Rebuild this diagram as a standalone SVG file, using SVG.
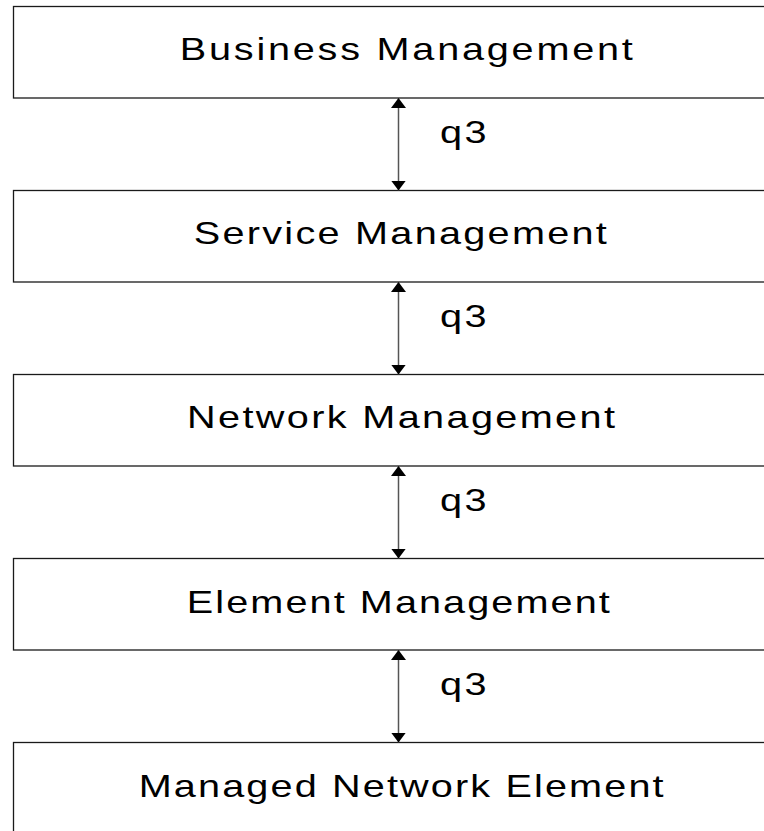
<svg xmlns="http://www.w3.org/2000/svg" width="764" height="831" viewBox="0 0 764 831">
<style>
.box{fill:#fff;stroke:#1a1a1a;stroke-width:1.3}
.lbl{font-family:"Liberation Sans",Arial,sans-serif;font-size:30.5px;fill:#000}
.conn{stroke:#555;stroke-width:1.5;fill:none;marker-start:url(#ah);marker-end:url(#ah)}
</style>
<defs>
<marker id="ah" viewBox="0 0 10 15" refX="10" refY="7.5" markerWidth="10" markerHeight="15" markerUnits="userSpaceOnUse" orient="auto-start-reverse">
<path d="M0,0 L10,7.5 L0,15 z" fill="#000"/>
</marker>
</defs>
<rect width="764" height="831" fill="#fff"/>
<g id="business">
<rect class="box" x="13.5" y="6.5" width="800" height="91.5"/>
<text class="lbl" transform="translate(179.8,59.5) scale(1.3,1)" textLength="348.5" lengthAdjust="spacing">Business Management</text>
</g>
<g id="service">
<rect class="box" x="13.5" y="190.5" width="800" height="91.5"/>
<text class="lbl" transform="translate(193.8,244.2) scale(1.3,1)" textLength="317.7" lengthAdjust="spacing">Service Management</text>
</g>
<g id="network">
<rect class="box" x="13.5" y="374.5" width="800" height="91.5"/>
<text class="lbl" transform="translate(187,428) scale(1.3,1)" textLength="329.2" lengthAdjust="spacing">Network Management</text>
</g>
<g id="element">
<rect class="box" x="13.5" y="558.5" width="800" height="91.5"/>
<text class="lbl" transform="translate(186.8,612.8) scale(1.3,1)" textLength="325.4" lengthAdjust="spacing">Element Management</text>
</g>
<g id="managed">
<rect class="box" x="13.5" y="742.5" width="800" height="120"/>
<text class="lbl" transform="translate(138.7,796.8) scale(1.3,1)" textLength="403.8" lengthAdjust="spacing">Managed Network Element</text>
</g>
<g id="connectors">
<line class="conn" x1="398.5" y1="98" x2="398.5" y2="190.5"/>
<line class="conn" x1="398.5" y1="282" x2="398.5" y2="374.5"/>
<line class="conn" x1="398.5" y1="466" x2="398.5" y2="558.5"/>
<line class="conn" x1="398.5" y1="650" x2="398.5" y2="742.5"/>
<text class="lbl" transform="translate(440,143.3) scale(1.3,1)" textLength="35.8" lengthAdjust="spacing">q3</text>
<text class="lbl" transform="translate(440,327.3) scale(1.3,1)" textLength="35.8" lengthAdjust="spacing">q3</text>
<text class="lbl" transform="translate(440,511.3) scale(1.3,1)" textLength="35.8" lengthAdjust="spacing">q3</text>
<text class="lbl" transform="translate(440,695.3) scale(1.3,1)" textLength="35.8" lengthAdjust="spacing">q3</text>
</g>
</svg>
